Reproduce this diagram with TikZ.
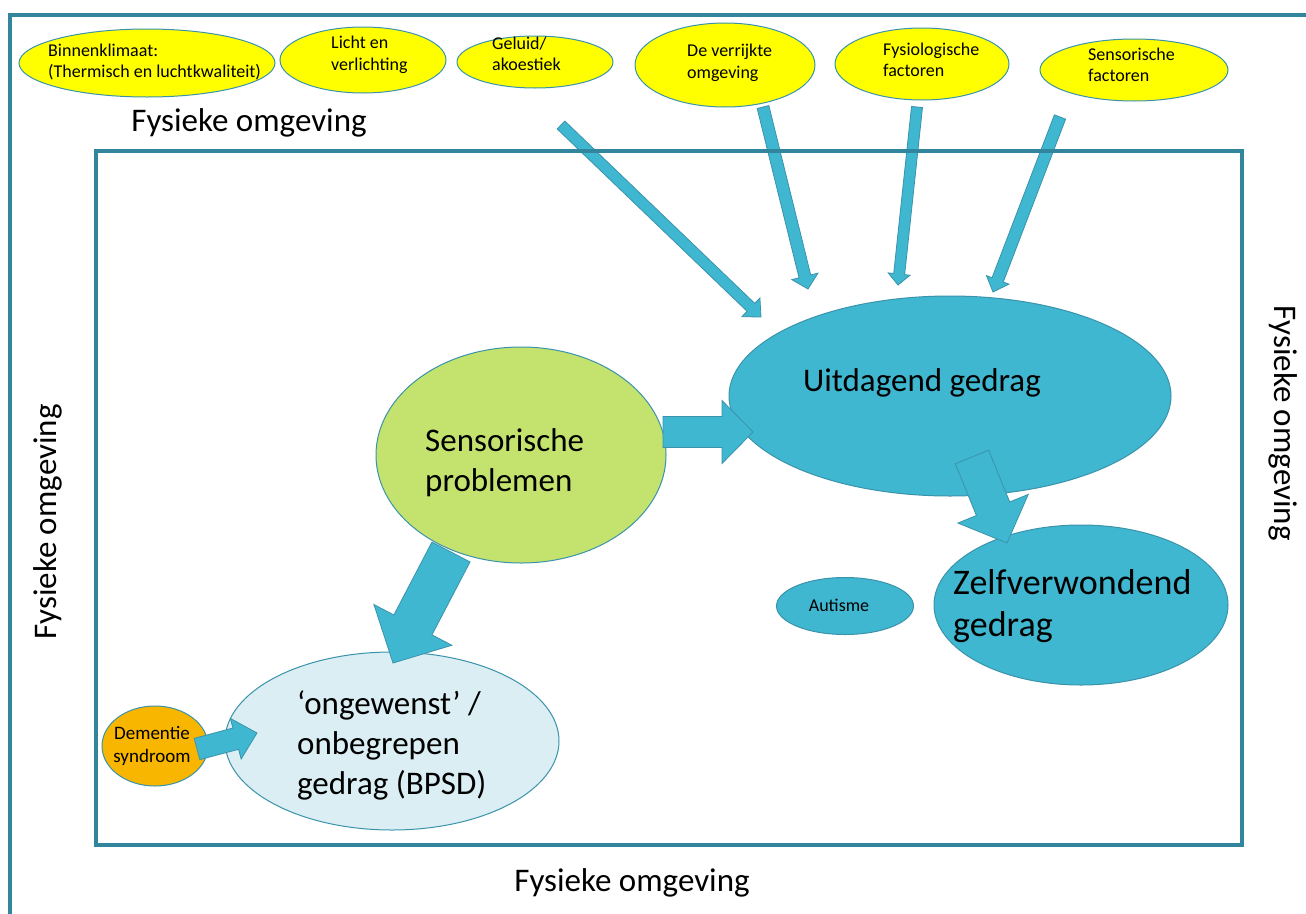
\documentclass[tikz,border=0pt]{standalone}
\usepackage{fontspec}
\setmainfont{Carlito}
\usetikzlibrary{calc,shapes.geometric}

\definecolor{frameteal}{HTML}{31859C}
\definecolor{aquafill}{HTML}{40B7D0}
\definecolor{aqualine}{HTML}{3A93AB}
\definecolor{limefill}{HTML}{C4E26E}
\definecolor{paleblue}{HTML}{DAEEF3}
\definecolor{amber}{HTML}{F8B600}
\definecolor{yellowfill}{HTML}{FFFF00}

\tikzset{
  frame/.style={draw=frameteal, line width=4pt},
  bubble/.style={ellipse, draw=aqualine, line width=1pt, inner sep=0pt},
  factor/.style={bubble, fill=yellowfill},
  blockfill/.style={fill=aquafill, draw=aqualine, line width=0.8pt, line join=miter},
  smalltext/.style={font=\fontsize{18}{21.5}\selectfont, align=left, inner sep=0pt},
  bigtext/.style={font=\fontsize{33}{40}\selectfont, align=left, inner sep=0pt},
  envtext/.style={font=\fontsize{33}{38}\selectfont, inner sep=0pt},
}

% block arrow: tail, tip, half shaft width, half head width, head length
\newcommand{\blockarrow}[5]{%
  \coordinate (bah) at ($(#2)!#5!(#1)$);
  \path[blockfill] ($(#1)!#3!90:(#2)$) -- ($(bah)!#3!90:(#2)$) -- ($(bah)!#4!90:(#2)$)
    -- (#2) -- ($(bah)!#4!-90:(#2)$) -- ($(bah)!#3!-90:(#2)$) -- ($(#1)!#3!-90:(#2)$) -- cycle;}

\begin{document}
\begin{tikzpicture}[x=1pt, y=-1pt]
\useasboundingbox (0,0) rectangle (1306,913);
\clip (0,0) rectangle (1306,913);

% factor bubbles along the top
\node[factor, minimum width=256pt, minimum height=68pt] (klimaat) at (147,63) {};
\node[factor, minimum width=166pt, minimum height=66pt] (licht) at (363,60) {};
\node[factor, minimum width=156pt, minimum height=52pt] (geluid) at (535,62) {};
\node[factor, minimum width=180pt, minimum height=84pt] (verrijkt) at (725,65) {};
\node[factor, minimum width=174pt, minimum height=72pt] (fysio) at (922,64) {};
\node[factor, minimum width=188pt, minimum height=62pt] (sensfac) at (1134,70) {};

\node[smalltext, anchor=west] (klimaat-t) at (48,62) {Binnenklimaat:\\(Thermisch en luchtkwaliteit)};
\node[smalltext, anchor=west] (licht-t) at (331,55) {Licht en\\verlichting};
\node[smalltext, anchor=west] (geluid-t) at (492,54) {Geluid/\\akoestiek};
\node[smalltext, anchor=west] (verrijkt-t) at (687,63) {De verrijkte\\omgeving};
\node[smalltext, anchor=west] (fysio-t) at (883,60) {Fysiologische\\factoren};
\node[smalltext, anchor=west] (sensfac-t) at (1088,65) {Sensorische\\factoren};

% arrow end points
\coordinate (a1s) at (561,125);  \coordinate (a1e) at (761,317);
\coordinate (a2s) at (763,107);  \coordinate (a2e) at (808,289);
\coordinate (a3s) at (917,107);  \coordinate (a3e) at (898,285);
\coordinate (a4s) at (1060,117); \coordinate (a4e) at (993,292);

\blockarrow{a1s}{a1e}{5.5pt}{13pt}{14pt}
\blockarrow{a2s}{a2e}{6pt}{13.5pt}{13pt}
\blockarrow{a3s}{a3e}{5.5pt}{11pt}{11pt}
\blockarrow{a4s}{a4e}{6pt}{12pt}{13pt}

% frames of the physical environment
\draw[frame] (10,15) rectangle (1330,940);
\draw[frame] (96,151) rectangle (1242,845);

\node[envtext, anchor=center] (env-top) at (249,123) {Fysieke omgeving};
\node[envtext, anchor=center] (env-bottom) at (632,883) {Fysieke omgeving};
\node[envtext, anchor=center, rotate=90] (env-left) at (48,522) {Fysieke omgeving};
\node[envtext, anchor=center, rotate=-90] (env-right) at (1283,423) {Fysieke omgeving};

% behaviour bubbles
\node[bubble, fill=aquafill, minimum width=442pt, minimum height=200pt] (uitdagend) at (950,396) {};
\node[bubble, fill=limefill, minimum width=290pt, minimum height=216pt] (sensprob) at (521,455) {};
\node[bubble, fill=aquafill, minimum width=294pt, minimum height=160pt] (zelf) at (1081,605) {};
\node[bubble, fill=aquafill, minimum width=137pt, minimum height=57pt] (autisme) at (845,606) {};
\node[bubble, fill=paleblue, minimum width=334pt, minimum height=178pt] (ongewenst) at (392,741) {};
\node[bubble, fill=amber, minimum width=106pt, minimum height=80pt] (dementie) at (155,746) {};

\node[bigtext, anchor=center] (uitdagend-t) at (922,383) {Uitdagend gedrag};
\node[bigtext, anchor=west] (sensprob-t) at (425,463) {Sensorische\\problemen};
\node[bigtext, anchor=west, font=\fontsize{36}{42}\selectfont] (zelf-t) at (953,606) {Zelfverwondend\\gedrag};
\node[smalltext, anchor=center] (autisme-t) at (839,605) {Autisme};
\node[bigtext, anchor=west] (ongewenst-t) at (297,745) {‘ongewenst’ /\\onbegrepen\\gedrag (BPSD)};
\node[smalltext, anchor=center, align=center, font=\fontsize{19}{23}\selectfont] (dementie-t) at (152,746) {Dementie\\syndroom};

% block arrows between the bubbles
\coordinate (b1s) at (663,432);  \coordinate (b1e) at (753,432);
\coordinate (b2s) at (972,457);  \coordinate (b2e) at (1007,543);
\coordinate (b3s) at (451,552);  \coordinate (b3e) at (393,663);
\coordinate (b4s) at (197,749);  \coordinate (b4e) at (257,733);

\blockarrow{b1s}{b1e}{15.5pt}{31.5pt}{31pt}
\blockarrow{b2s}{b2e}{18pt}{38pt}{37pt}
\blockarrow{b3s}{b3e}{21.5pt}{44pt}{43pt}
\blockarrow{b4s}{b4e}{11pt}{21pt}{22pt}
\end{tikzpicture}
\end{document}
